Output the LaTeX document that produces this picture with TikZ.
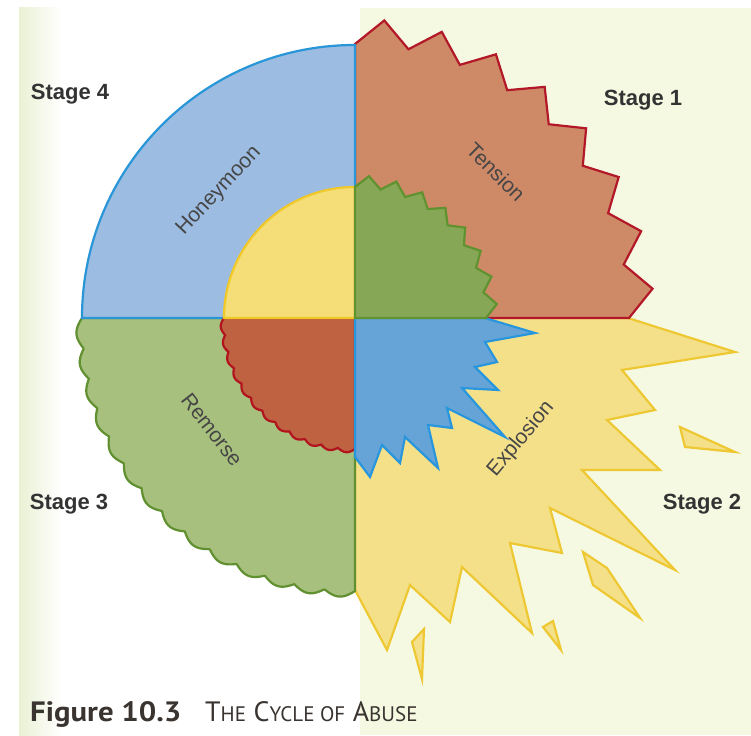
\documentclass[tikz,border=0pt]{standalone}
\usepackage{fontspec}
\setmainfont{Liberation Sans}
\newfontfamily\capfont{PT Sans}
\newfontfamily\capfontwide[FakeStretch=1.1]{PT Sans}
\usetikzlibrary{shadings}
\definecolor{bgright}{RGB}{246,249,226}
\definecolor{leftstrip}{RGB}{234,241,212}
\definecolor{hmfill}{RGB}{157,188,226}
\definecolor{hmline}{RGB}{40,150,215}
\definecolor{tenfill}{RGB}{206,137,102}
\definecolor{tenline}{RGB}{178,24,40}
\definecolor{remfill}{RGB}{168,192,126}
\definecolor{remline}{RGB}{96,144,48}
\definecolor{expfill}{RGB}{245,224,138}
\definecolor{expline}{RGB}{238,200,50}
\definecolor{yinfill}{RGB}{245,222,120}
\definecolor{yinline}{RGB}{240,200,40}
\definecolor{ginfill}{RGB}{134,168,86}
\definecolor{ginline}{RGB}{96,146,48}
\definecolor{rinfill}{RGB}{190,98,66}
\definecolor{rinline}{RGB}{178,20,30}
\definecolor{binfill}{RGB}{102,164,216}
\definecolor{binline}{RGB}{40,150,220}
\definecolor{txtgray}{RGB}{51,51,51}
\definecolor{lblgray}{RGB}{70,70,70}
\definecolor{capcol}{RGB}{58,52,48}
\tikzset{
  part/.style={line width=2.2pt, line join=miter},
  stagelbl/.style={font=\bfseries\fontsize{22}{24}\selectfont, text=txtgray, inner sep=0pt},
  phaselbl/.style={font=\fontsize{21}{24}\selectfont, text=lblgray, inner sep=0pt},
  caplbl/.style={anchor=base west, inner sep=0pt, text=capcol}
}
\begin{document}
\begin{tikzpicture}[x=1pt,y=-1pt]
% background
\fill[white] (0,0) rectangle (751,735);
\useasboundingbox (0,0) rectangle (751,735);
\fill[bgright] (360,8) rectangle (751,735);
\shade[left color=leftstrip, right color=white] (19,8) rectangle (62,735);
% explosion
\filldraw[part, fill=expfill, draw=expline] (355,318) -- (628,318) -- (735,352) -- (622,370) -- (655,410) -- (607,420) -- (660,470) -- (582,470) -- (675,570) -- (550,508) -- (562,553) -- (510,543) -- (532,633) -- (462,567) -- (450,622) -- (410,585) -- (387,650) -- (355,590) -- cycle;
% shards
\filldraw[part, fill=expfill, draw=expline] (680,427) -- (685,447) -- (735,452) -- cycle;
\filldraw[part, fill=expfill, draw=expline] (583,552) -- (607,568) -- (640,618) -- (593,585) -- cycle;
\filldraw[part, fill=expfill, draw=expline] (543,627) -- (553,621) -- (561,650) -- cycle;
\filldraw[part, fill=expfill, draw=expline] (412,642) -- (424,629) -- (422,679) -- cycle;
\begin{scope}[shift={(355,318)}]
% tension (outer sawtooth)
\filldraw[part, fill=tenfill, draw=tenline] (0,0) \foreach \k in {0,...,7} { -- ({11.25*\k-90}:274) -- ({11.25*\k-84.375}:299) } -- (0:274) -- cycle;
% remorse (outer scalloped)
\filldraw[part, fill=remfill, draw=remline] (0,0) -- plot[domain=90:180, samples=400, smooth] (\x:{273+6*abs(sin(28*(\x-90)))}) -- cycle;
% honeymoon
\filldraw[part, fill=hmfill, draw=hmline] (0,0) -- (-273,0) arc[start angle=180, end angle=270, radius=273] -- cycle;
% red inner scalloped
\filldraw[part, fill=rinfill, draw=rinline] (0,0) -- plot[domain=90:180, samples=300, smooth] (\x:{131+3.5*abs(sin(24*(\x-90)))}) -- cycle;
\end{scope}
% blue inner spiky
\filldraw[part, fill=binfill, draw=binline] (355,318) -- (485,318) -- (535,333) -- (485,342) -- (497,362) -- (475,367) -- (498,390) -- (462,388) -- (505,437) -- (447,408) -- (452,428) -- (428,425) -- (438,468) -- (405,437) -- (400,463) -- (382,445) -- (370,477) -- (355,457) -- cycle;
\begin{scope}[shift={(355,318)}]
% yellow inner
\filldraw[part, fill=yinfill, draw=yinline] (0,0) -- (-131,0) arc[start angle=180, end angle=270, radius=131] -- cycle;
% green inner sawtooth
\filldraw[part, fill=ginfill, draw=ginline] (0,0) \foreach \k in {0,...,7} { -- ({11.25*\k-90}:131) -- ({11.25*\k-84.375}:142.5) } -- (0:131) -- cycle;
\end{scope}
% labels
\node[stagelbl] (s4) at (70,94) {Stage 4};
\node[stagelbl] (s1) at (643,100) {Stage 1};
\node[stagelbl] (s3) at (69,504) {Stage 3};
\node[stagelbl] (s2) at (702,504) {Stage 2};
\node[phaselbl, rotate=47] (hm) at (219,191) {Honeymoon};
\node[phaselbl, rotate=-45] (te) at (496,172) {Tension};
\node[phaselbl, rotate=-52] (re) at (212,430) {Remorse};
\node[phaselbl, rotate=50] (ex) at (521,439) {Explosion};
\node[caplbl] (capnum) at (30,721) {\capfontwide\fontsize{28}{30}\selectfont\bfseries Figure 10.3};
\node[caplbl] (captitle) at (205,721) {\capfont\fontsize{28}{30}\selectfont T{\fontsize{21}{24}\selectfont HE} C{\fontsize{21}{24}\selectfont YCLE OF} A{\fontsize{21}{24}\selectfont BUSE}};
\end{tikzpicture}
\end{document}
